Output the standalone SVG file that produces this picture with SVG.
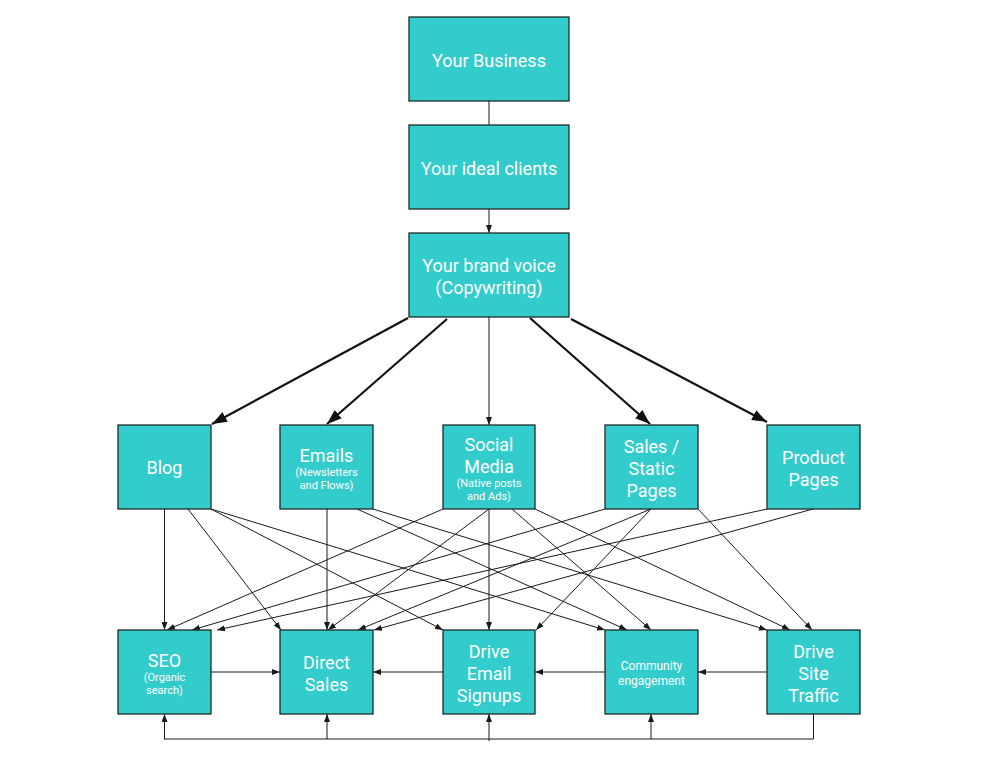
<svg xmlns="http://www.w3.org/2000/svg" width="997" height="769" viewBox="0 0 997 769">
<style>
.box{fill:#33cccc;stroke:#1f2a2a;stroke-width:1.3}
.t{font-family:Roboto,"Liberation Sans",sans-serif;fill:#ffffff;text-anchor:middle;dominant-baseline:central}
.l{font-size:18px}
.s{font-size:11px}
.m{font-size:12px}
.c{fill:none;stroke:#1a1a1a;stroke-width:1}
.k{fill:none;stroke:#111;stroke-width:2.2}
</style>
<defs>
<marker id="a" markerUnits="userSpaceOnUse" markerWidth="8" markerHeight="6" refX="8" refY="3" orient="auto"><path d="M0,0 L8,3 L0,6 z" fill="#1a1a1a"/></marker>
<marker id="b" markerUnits="userSpaceOnUse" markerWidth="15" markerHeight="11" refX="15" refY="5.5" orient="auto"><path d="M0,0 L15,5.5 L0,11 z" fill="#111"/></marker>
</defs>
<rect width="997" height="769" fill="#ffffff"/>
<g id="connectors">
<line class="c" x1="489" y1="101" x2="489" y2="125"/>
<line class="c" x1="489" y1="209" x2="489" y2="233" marker-end="url(#a)"/>
<line class="k" x1="408" y1="318" x2="212" y2="424" marker-end="url(#b)"/>
<line class="k" x1="447" y1="319" x2="327" y2="424" marker-end="url(#b)"/>
<line class="c" x1="489" y1="317" x2="489" y2="425" marker-end="url(#a)"/>
<line class="k" x1="530" y1="318" x2="650" y2="424" marker-end="url(#b)"/>
<line class="k" x1="571" y1="319" x2="767" y2="422" marker-end="url(#b)"/>
<line class="c" x1="164.5" y1="509" x2="164.5" y2="630" marker-end="url(#a)"/>
<line class="c" x1="188" y1="509" x2="281" y2="630" marker-end="url(#a)"/>
<line class="c" x1="211" y1="509" x2="443" y2="630" marker-end="url(#a)"/>
<line class="c" x1="211" y1="509" x2="605" y2="630" marker-end="url(#a)"/>
<line class="c" x1="327" y1="509" x2="327" y2="630" marker-end="url(#a)"/>
<line class="c" x1="357" y1="509" x2="627" y2="630" marker-end="url(#a)"/>
<line class="c" x1="373" y1="509" x2="767" y2="630" marker-end="url(#a)"/>
<line class="c" x1="443" y1="509" x2="167" y2="630" marker-end="url(#a)"/>
<line class="c" x1="489" y1="509" x2="328" y2="630" marker-end="url(#a)"/>
<line class="c" x1="489" y1="509" x2="489" y2="630" marker-end="url(#a)"/>
<line class="c" x1="512" y1="509" x2="651" y2="630" marker-end="url(#a)"/>
<line class="c" x1="535" y1="509" x2="790" y2="630" marker-end="url(#a)"/>
<line class="c" x1="605" y1="509" x2="192" y2="630" marker-end="url(#a)"/>
<line class="c" x1="651" y1="509" x2="358" y2="630" marker-end="url(#a)"/>
<line class="c" x1="651" y1="509" x2="536" y2="630" marker-end="url(#a)"/>
<line class="c" x1="698" y1="509" x2="812" y2="630" marker-end="url(#a)"/>
<line class="c" x1="767" y1="509" x2="217" y2="630" marker-end="url(#a)"/>
<line class="c" x1="813" y1="509" x2="374" y2="630" marker-end="url(#a)"/>
<line class="c" x1="211" y1="672" x2="280" y2="672" marker-end="url(#a)"/>
<line class="c" x1="443" y1="672" x2="373" y2="672" marker-end="url(#a)"/>
<line class="c" x1="605" y1="672" x2="535" y2="672" marker-end="url(#a)"/>
<line class="c" x1="767" y1="672" x2="698" y2="672" marker-end="url(#a)"/>
<path class="c" d="M813.5,714 V739 H164"/>
<line class="c" x1="164.5" y1="739" x2="164.5" y2="714" marker-end="url(#a)"/>
<line class="c" x1="327" y1="739" x2="327" y2="714" marker-end="url(#a)"/>
<line class="c" x1="489" y1="741" x2="489" y2="714" marker-end="url(#a)"/>
<line class="c" x1="651" y1="739" x2="651" y2="714" marker-end="url(#a)"/>
</g>
<g id="business"><rect class="box" x="409" y="17" width="160" height="84"/><text class="t l" x="489" y="60">Your Business</text></g>
<g id="clients"><rect class="box" x="409" y="125" width="160" height="84"/><text class="t l" x="489" y="168">Your ideal clients</text></g>
<g id="brand"><rect class="box" x="409" y="233" width="160" height="84"/><text class="t l" x="489" y="265">Your brand voice</text><text class="t l" x="489" y="287">(Copywriting)</text></g>
<g id="blog"><rect class="box" x="118" y="425" width="93" height="84"/><text class="t l" x="164.5" y="467">Blog</text></g>
<g id="emails"><rect class="box" x="280" y="425" width="93" height="84"/><text class="t l" x="326.5" y="455">Emails</text><text class="t s" x="326.5" y="472">(Newsletters</text><text class="t s" x="326.5" y="485">and Flows)</text></g>
<g id="social"><rect class="box" x="443" y="425" width="92" height="84"/><text class="t l" x="489" y="444">Social</text><text class="t l" x="489" y="466">Media</text><text class="t s" x="489" y="483">(Native posts</text><text class="t s" x="489" y="496">and Ads)</text></g>
<g id="sales"><rect class="box" x="605" y="425" width="93" height="84"/><text class="t l" x="651.5" y="446">Sales /</text><text class="t l" x="651.5" y="468">Static</text><text class="t l" x="651.5" y="490">Pages</text></g>
<g id="product"><rect class="box" x="767" y="425" width="93" height="84"/><text class="t l" x="813.5" y="457">Product</text><text class="t l" x="813.5" y="479">Pages</text></g>
<g id="seo"><rect class="box" x="118" y="630" width="93" height="84"/><text class="t l" x="164.5" y="660">SEO</text><text class="t s" x="164.5" y="677">(Organic</text><text class="t s" x="164.5" y="690">search)</text></g>
<g id="direct"><rect class="box" x="280" y="630" width="93" height="84"/><text class="t l" x="326.5" y="662">Direct</text><text class="t l" x="326.5" y="684">Sales</text></g>
<g id="signups"><rect class="box" x="443" y="630" width="92" height="84"/><text class="t l" x="489" y="651">Drive</text><text class="t l" x="489" y="673">Email</text><text class="t l" x="489" y="695">Signups</text></g>
<g id="community"><rect class="box" x="605" y="630" width="93" height="84"/><text class="t m" x="651.5" y="665.5">Community</text><text class="t m" x="651.5" y="680.5">engagement</text></g>
<g id="traffic"><rect class="box" x="767" y="630" width="93" height="84"/><text class="t l" x="813.5" y="651">Drive</text><text class="t l" x="813.5" y="673">Site</text><text class="t l" x="813.5" y="695">Traffic</text></g>
</svg>
